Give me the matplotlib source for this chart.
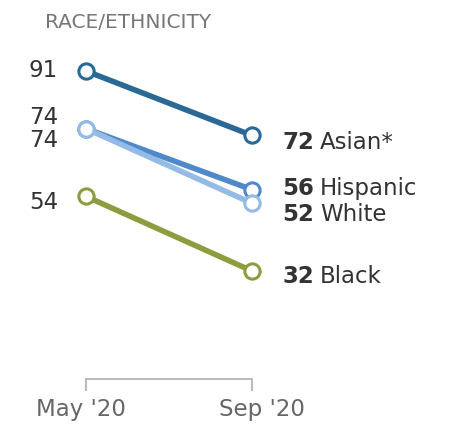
import numpy as np
import matplotlib
matplotlib.use("Agg")
import matplotlib.pyplot as plt

# data
periods = ["May '20", "Sep '20"]
groups = ["Asian*", "Hispanic", "White", "Black"]
may_vals = [91, 74, 74, 54]
sep_vals = [72, 56, 52, 32]

colors = ["#2a6896", "#4f89c9", "#93bbe6", "#8c9c3e"]
# small vertical nudges (points) so overlapping labels stay readable
left_nudge = [1, 9, -8, -3.5]
right_nudge = [-4.5, 1.5, -7.5, -3]

W, H, DPI = 471, 427, 100
fig = plt.figure(figsize=(W / DPI, H / DPI), dpi=DPI)
ax = fig.add_axes([0, 0, 1, 1])

# pixel layout: May at x=86, Sep at x=252; 91 at y=72, 32 at y=272
px_per_x = 252 - 86
ax.set_xlim(-86 / px_per_x, (W - 86) / px_per_x)
px_per_y = (272 - 72) / (91 - 32)
ax.set_ylim(91 - (H - 72) / px_per_y, 91 + 72 / px_per_y)
ax.axis("off")

x = np.arange(len(periods))
# draw White first so Hispanic sits on top
order = [2, 1, 3, 0]
for i in order:
    ax.plot(x, [may_vals[i], sep_vals[i]], color=colors[i], lw=4,
            solid_capstyle="round", zorder=2 + i,
            marker="o", ms=11, mfc="white", mec=colors[i], mew=2.2)

txt = "#333333"
fs = 16.5
for i in range(len(groups)):
    ax.annotate(str(may_vals[i]), xy=(0, may_vals[i]), xytext=(-20, left_nudge[i]),
                textcoords="offset points", ha="right", va="center",
                fontsize=fs, color=txt)
    num = ax.annotate(str(sep_vals[i]), xy=(1, sep_vals[i]), xytext=(22, right_nudge[i]),
                      textcoords="offset points", ha="left", va="center",
                      fontsize=fs, fontweight="bold", color=txt)
    ax.annotate(groups[i], xy=(1, 0.5), xycoords=num, xytext=(4, 0),
                textcoords="offset points", ha="left", va="center",
                fontsize=fs, color=txt)

# bracket under the two periods
tr = ax.get_xaxis_transform()
y_top = 1 - 380 / H
y_bot = 1 - 391 / H
ax.plot([x[0], x[0], x[1], x[1]], [y_bot, y_top, y_top, y_bot], transform=tr,
        color="#bbbbbb", lw=1.5, clip_on=False)
for xi, lab, dx in zip(x, periods, [-0.03, 0.06]):
    ax.text(xi + dx, 1 - 410 / H, lab, transform=tr, ha="center", va="center",
            fontsize=fs, color="#666666")

fig.text(45 / W, 1 - 23 / H, "RACE/ETHNICITY", ha="left", va="center",
         fontsize=14.5, color="#777777")

fig.savefig("out.png", dpi=DPI)
